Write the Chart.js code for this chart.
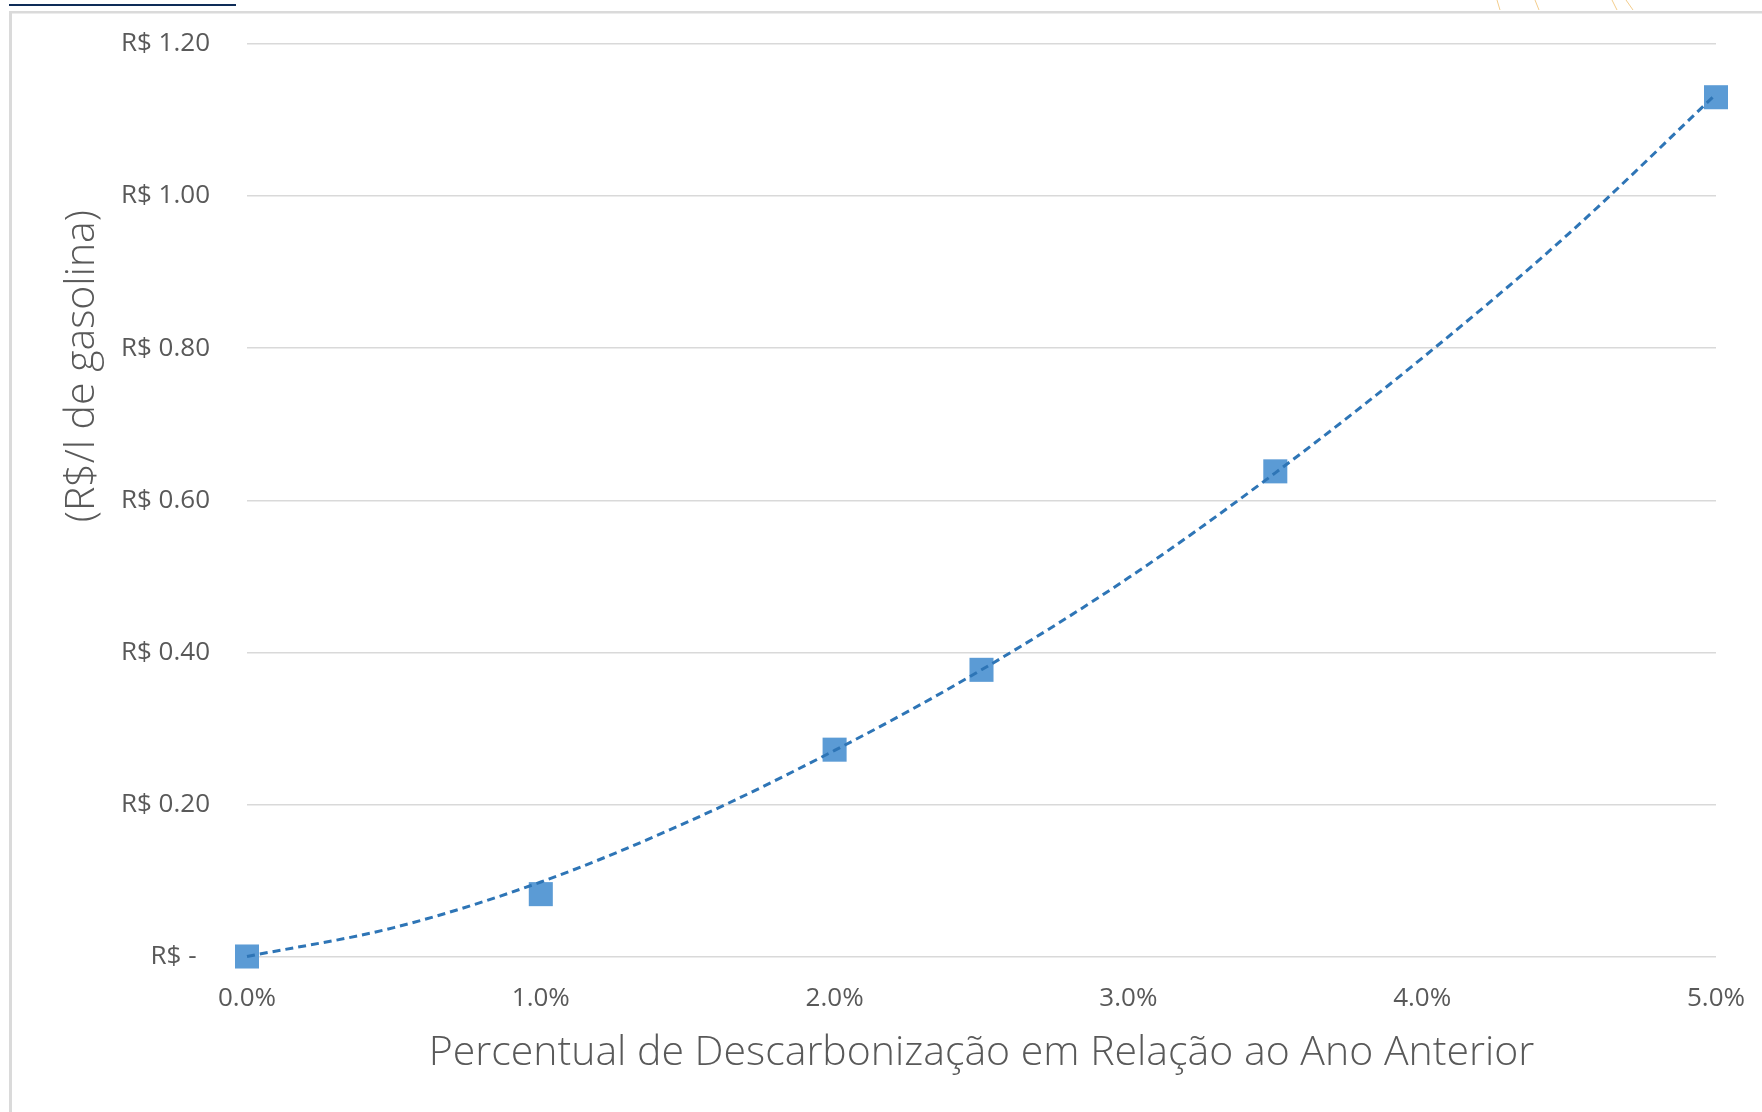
<!DOCTYPE html>
<html>
<head>
<meta charset="utf-8">
<script src="https://cdn.jsdelivr.net/npm/chart.js@4/dist/chart.umd.min.js"></script>
<style>
  html, body { margin: 0; padding: 0; background: #fff; }
  canvas { display: block; }
</style>
</head>
<body>
<canvas id="chart" width="1762" height="1112"></canvas>
<script>
"use strict";

// observed points (percent of decarbonisation -> R$/l)
const pointPct = [0, 1.0, 2.0, 2.5, 3.5, 5.0];
const pointCost = [0, 0.082, 0.272, 0.377, 0.638, 1.13];

// dashed trend curve, every 0.5%
const trendPct = [0, 0.5, 1.0, 1.5, 2.0, 2.5, 3.0, 3.5, 4.0, 4.5, 5.0];
const trendCost = [0, 0.038, 0.098, 0.177, 0.271, 0.377, 0.498, 0.636, 0.787, 0.951, 1.134];

const xTickLabels = ["0.0%", "1.0%", "2.0%", "3.0%", "4.0%", "5.0%"];
const yTickLabels = ["R$ -  ", "R$ 0.20", "R$ 0.40", "R$ 0.60", "R$ 0.80", "R$ 1.00", "R$ 1.20"];

const xTitle = "Percentual de Descarbonização em Relação ao Ano Anterior";
const yTitle = "(R$/l de gasolina)";

const COLORS = {
  marker: "#5b9bd5",
  trend: "#2e75b6",
  grid: "#d9d9d9",
  text: "#595959",
  frame: "#dadada",
  navy: "#0e2c58",
  orange: "#f3cd8c",
};

const FONT = "'Open Sans', 'Liberation Sans', sans-serif";

// page decoration + rotated y title placed like in the original
const framePlugin = {
  id: "frame",
  beforeDraw(chart) {
    const { ctx, width, height } = chart;
    ctx.save();
    ctx.fillStyle = "#fff";
    ctx.fillRect(0, 0, width, height);
    ctx.fillStyle = COLORS.frame;
    ctx.fillRect(9, 11, 3, height - 11);
    ctx.fillRect(9, 11, width - 9, 2.5);
    ctx.fillStyle = COLORS.navy;
    ctx.fillRect(9, 4, 227, 2);
    ctx.strokeStyle = COLORS.orange;
    ctx.lineWidth = 1;
    [[1497, 1500], [1535, 1539], [1612, 1617], [1626, 1633]].forEach(([a, b]) => {
      ctx.beginPath();
      ctx.moveTo(a, 0);
      ctx.lineTo(b, 10);
      ctx.stroke();
    });
    ctx.restore();
  },
  afterDraw(chart) {
    const { ctx, chartArea } = chart;
    ctx.save();
    ctx.translate(82, chartArea.top + (chartArea.bottom - chartArea.top) * 0.353);
    ctx.rotate(-Math.PI / 2);
    ctx.font = `300 41px ${FONT}`;
    ctx.fillStyle = COLORS.text;
    ctx.textAlign = "center";
    ctx.textBaseline = "middle";
    ctx.fillText(yTitle, 0, 0);
    ctx.restore();
  },
};

new Chart(document.getElementById("chart"), {
  type: "scatter",
  data: {
    datasets: [
      {
        label: "Tendência",
        type: "line",
        data: trendPct.map((x, i) => ({ x, y: trendCost[i] })),
        borderColor: COLORS.trend,
        borderWidth: 3,
        borderDash: [8, 5],
        pointRadius: 0,
        cubicInterpolationMode: "monotone",
        fill: false,
        clip: false,
      },
      {
        label: "Custo",
        data: pointPct.map((x, i) => ({ x, y: pointCost[i] })),
        pointStyle: "rect",
        pointRadius: 17,
        pointHoverRadius: 17,
        backgroundColor: COLORS.marker,
        borderColor: COLORS.marker,
        borderWidth: 0,
        clip: false,
      },
    ],
  },
  options: {
    responsive: false,
    animation: false,
    layout: { padding: { top: 44, right: 46, bottom: 0, left: 0 } },
    plugins: {
      legend: { display: false },
      tooltip: { enabled: false },
    },
    scales: {
      x: {
        type: "linear",
        min: 0,
        max: 5,
        ticks: {
          stepSize: 1,
          color: COLORS.text,
          font: { family: FONT, size: 26 },
          padding: 26,
          maxRotation: 0,
          callback: (v, i) => xTickLabels[i],
        },
        grid: { display: false, drawTicks: false },
        border: { display: false },
        title: {
          display: true,
          text: xTitle,
          color: COLORS.text,
          font: { family: FONT, size: 41, weight: 300 },
          padding: { top: 0, bottom: 34 },
        },
        afterFit: (s) => {
          s.height = 155.5;
          s.paddingLeft = 0;
          s.paddingRight = 0;
        },
      },
      y: {
        min: 0,
        max: 1.2,
        ticks: {
          stepSize: 0.2,
          color: COLORS.text,
          font: { family: FONT, size: 26 },
          padding: 37,
          callback: (v, i) => yTickLabels[i],
        },
        grid: { color: COLORS.grid, lineWidth: 1.5, drawTicks: false },
        border: { display: false },
        afterFit: (s) => {
          s.width = 247;
          s.paddingTop = 0;
          s.paddingBottom = 0;
        },
      },
    },
  },
  plugins: [framePlugin],
});
</script>
</body>
</html>
